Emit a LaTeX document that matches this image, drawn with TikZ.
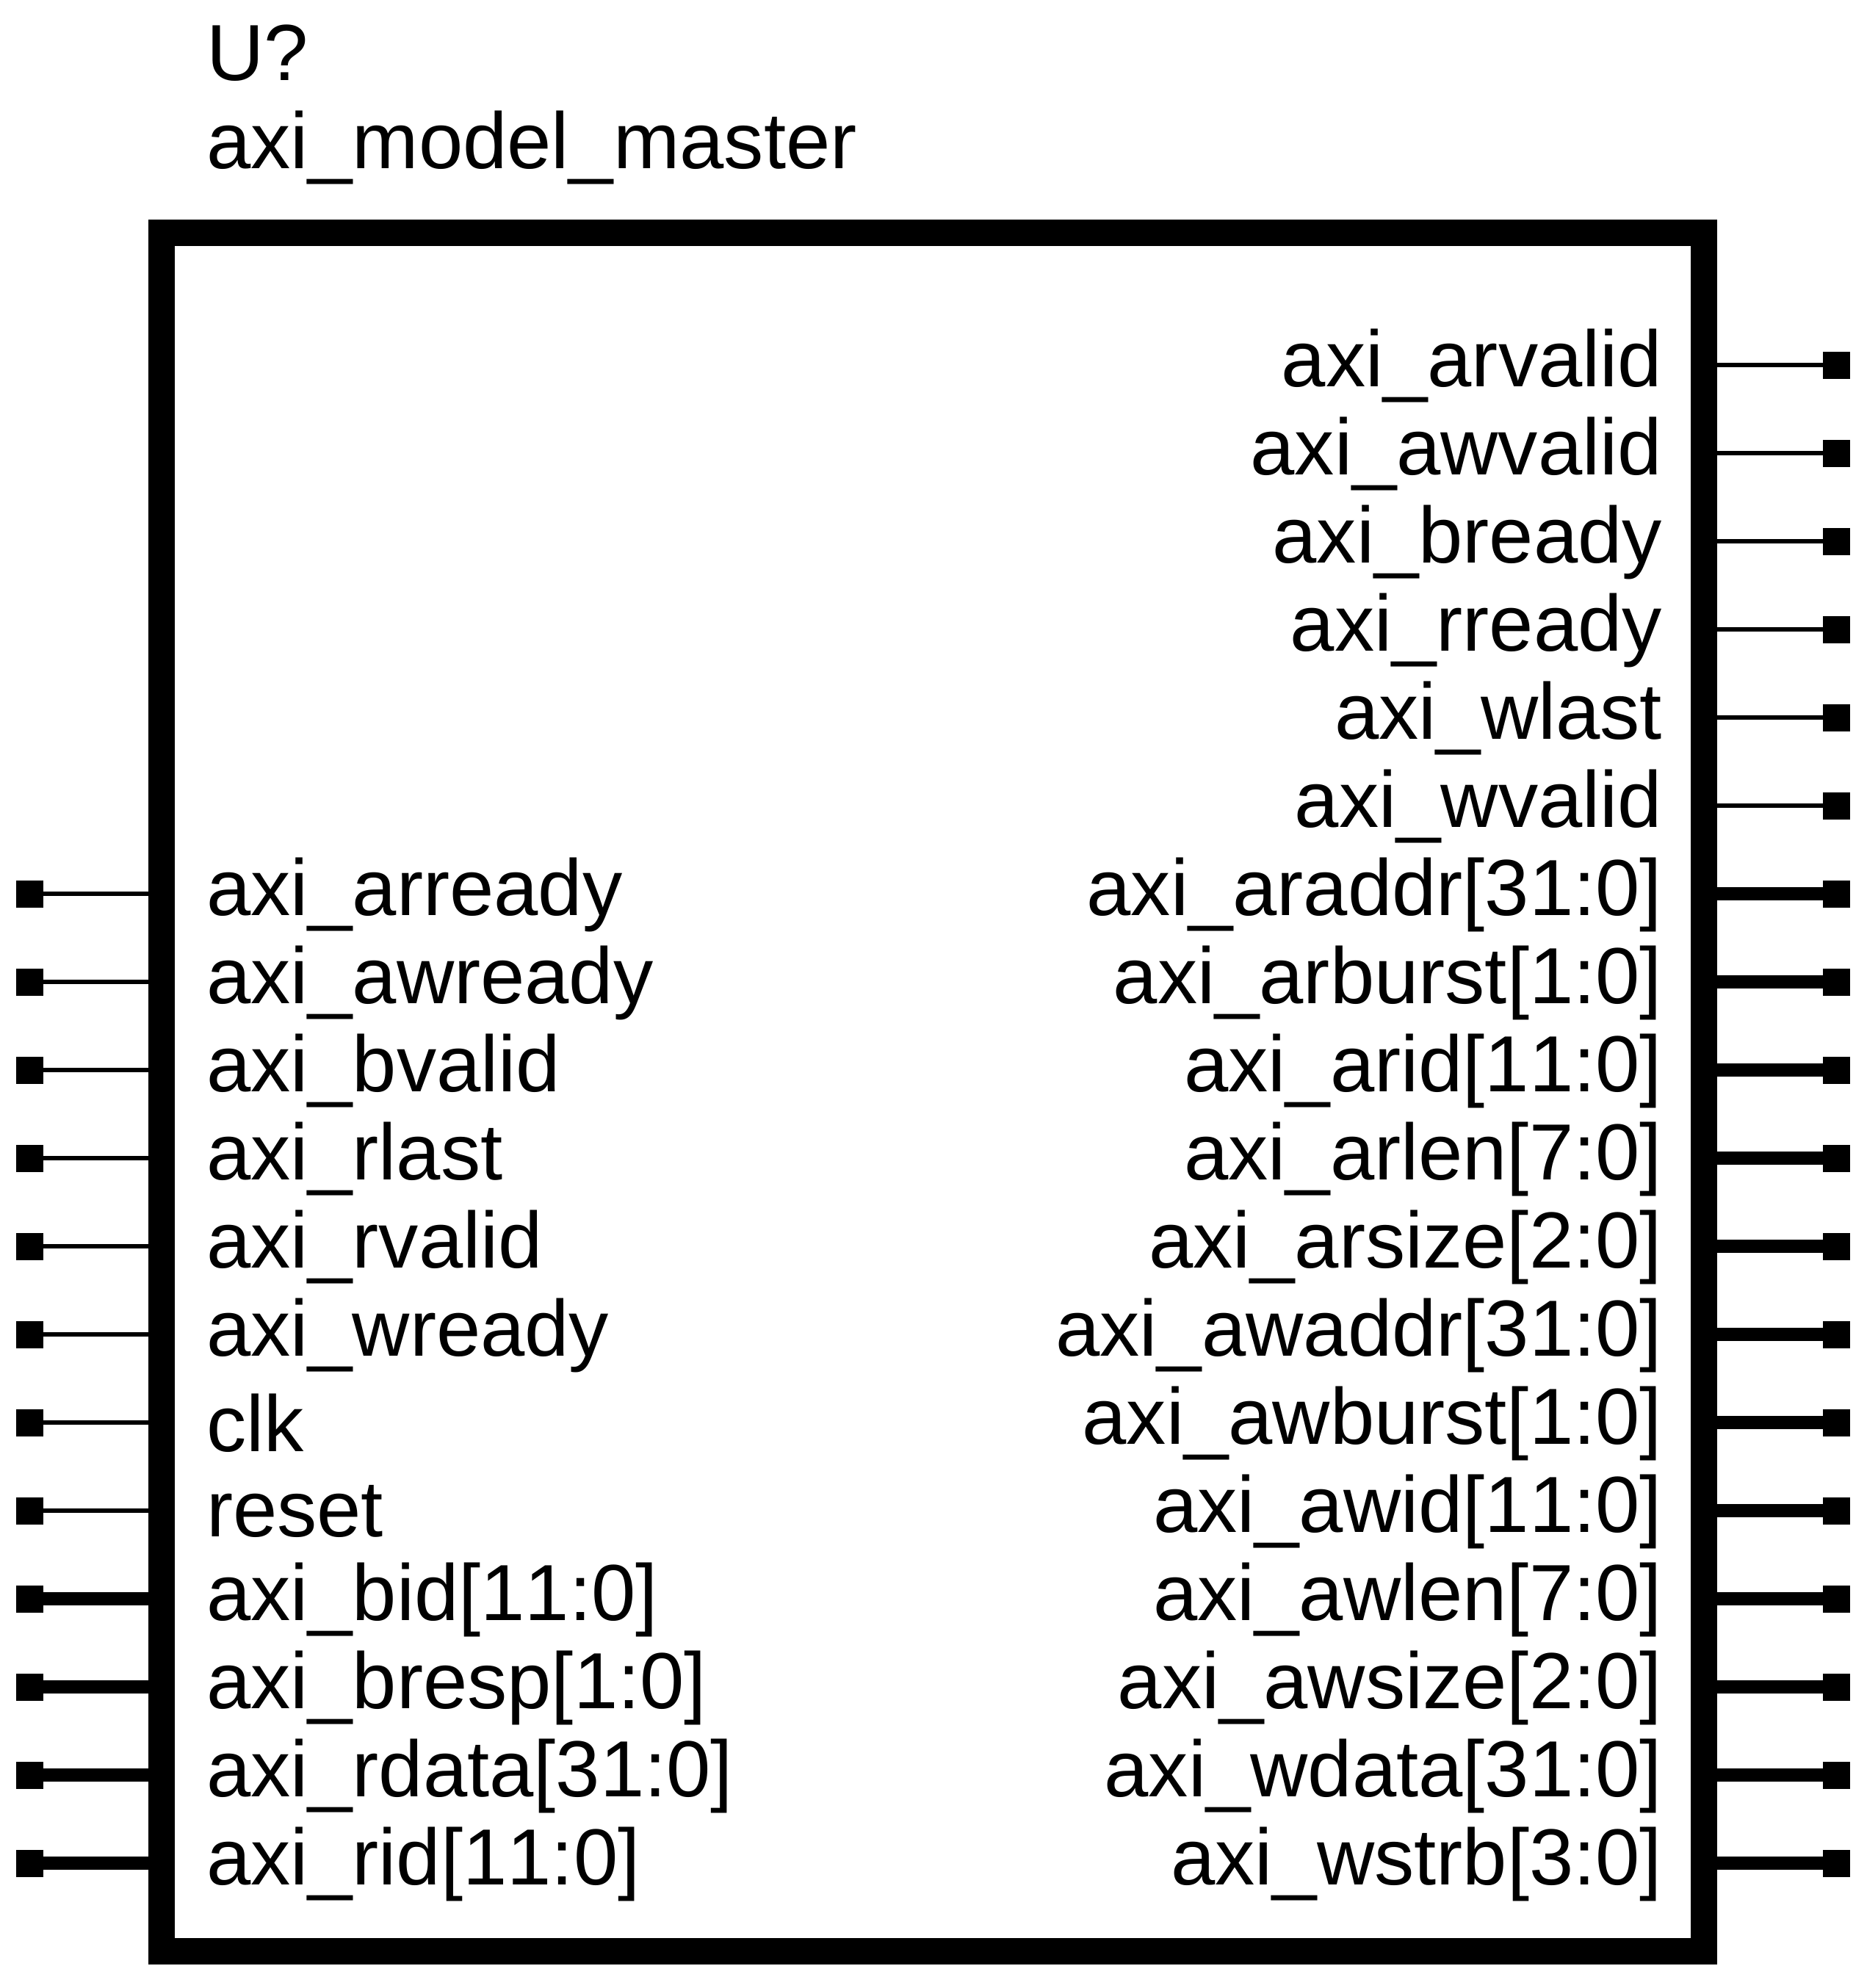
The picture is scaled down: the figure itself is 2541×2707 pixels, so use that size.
\documentclass[tikz,border=0pt]{standalone}
\usepackage{fontspec}
\setmainfont{Liberation Sans}
\tikzset{
  x=1pt,y=-1pt,
  pad/.style={draw=none,fill=black,minimum size=37pt,inner sep=0pt,outer sep=0pt},
  lbl/.style={inner sep=0pt,outer sep=0pt,font=\fontsize{108.4}{130}\selectfont},
  lleft/.style={lbl,anchor=base west},
  lright/.style={lbl,anchor=base east},
  thinwire/.style={line width=6pt},
  thickwire/.style={line width=18pt},
  sym/.style={draw=black,fill=white,line width=36pt,minimum width=2100pt,minimum height=2340pt,inner sep=0pt,outer sep=18pt}
}
\newcommand{\eleven}{1\kern0pt 1}
\begin{document}
\begin{tikzpicture}
\useasboundingbox (0,0) rectangle (2541,2707);
\fill[white] (0,0) rectangle (2541,2707);
\node[sym] (box) at (1270,1487) {};
\node[lleft] (ref) at (281,109) {U?};
\node[lleft] (val) at (281,229) {axi\_model\_master};
% left single-bit pins
\foreach \t/\dy [count=\i from 0] in {axi\_arready/29,axi\_awready/29,axi\_bvalid/29,axi\_rlast/29,axi\_rvalid/29,axi\_wready/29,clk/39,reset/35}{
  \pgfmathsetmacro\py{1217+120*\i}
  \node[pad] (lp\i) at (40.5,\py) {};
  \draw[thinwire] (lp\i.east) -- (box.west |- lp\i.east);
  \node[lleft] (lt\i) at (281,\py+\dy) {\t};
}
% left bus pins
\foreach \t [count=\i from 0] in {axi\_bid{[}\eleven:0{]},axi\_bresp{[}1:0{]},axi\_rdata{[}31:0{]},axi\_rid{[}\eleven:0{]}}{
  \pgfmathsetmacro\py{2177+120*\i}
  \node[pad] (lb\i) at (40.5,\py) {};
  \draw[thickwire] (lb\i.east) -- (box.west |- lb\i.east);
  \node[lleft] (lu\i) at (281,\py+29) {\t};
}
% right single-bit pins
\foreach \t [count=\i from 0] in {axi\_arvalid,axi\_awvalid,axi\_bready,axi\_rready,axi\_wlast,axi\_wvalid}{
  \pgfmathsetmacro\py{497+120*\i}
  \node[pad] (rp\i) at (2500.5,\py) {};
  \draw[thinwire] (box.east |- rp\i.west) -- (rp\i.west);
  \node[lright] (rt\i) at (2263,\py+29) {\t};
}
% right bus pins
\foreach \t [count=\i from 0] in {axi\_araddr{[}31:0{]},axi\_arburst{[}1:0{]},axi\_arid{[}\eleven:0{]},axi\_arlen{[}7:0{]},axi\_arsize{[}2:0{]},axi\_awaddr{[}31:0{]},axi\_awburst{[}1:0{]},axi\_awid{[}\eleven:0{]},axi\_awlen{[}7:0{]},axi\_awsize{[}2:0{]},axi\_wdata{[}31:0{]},axi\_wstrb{[}3:0{]}}{
  \pgfmathsetmacro\py{1217+120*\i}
  \node[pad] (rb\i) at (2500.5,\py) {};
  \draw[thickwire] (box.east |- rb\i.west) -- (rb\i.west);
  \node[lright] (ru\i) at (2263,\py+29) {\t};
}
\end{tikzpicture}
\end{document}
